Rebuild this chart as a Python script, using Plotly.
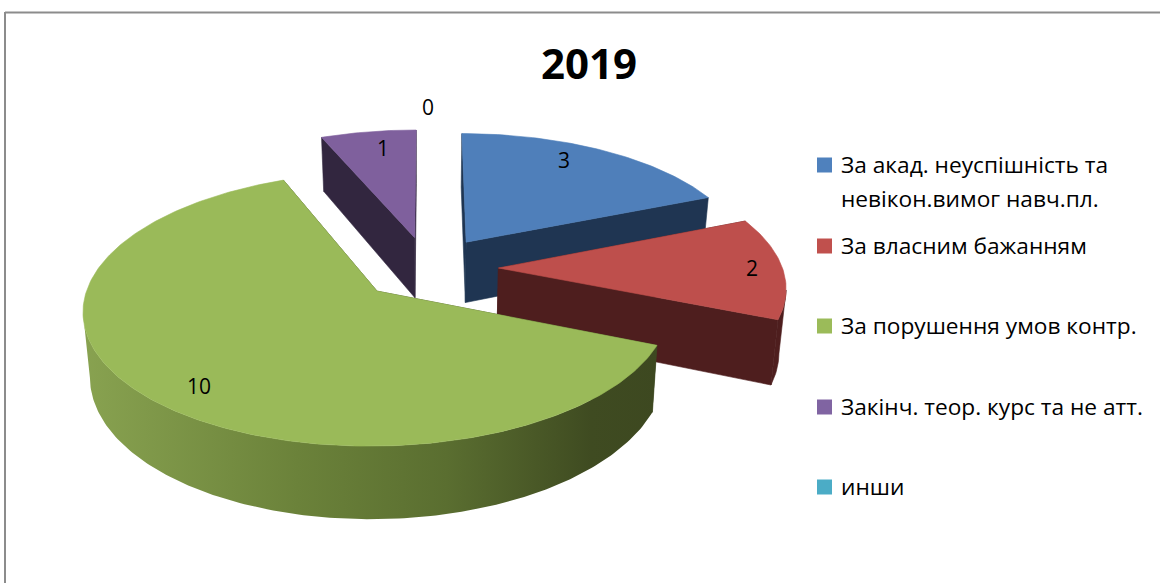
import numpy as np
import plotly.graph_objects as go

# data
categories = ["За акад. неуспішність та<br>невікон.вимог навч.пл.", "За власним бажанням",
              "За порушення умов контр.", "Закінч. теор. курс та не атт.", "инши"]
values = [3, 2, 10, 1, 0]
title = "2019"

top_colors = ["#4F7FBA", "#BE4F4C", "#9ABA59", "#7F609D", "#4BACC6"]
side_colors = ["#1F3552", "#4E1E1E", None, "#32263F", "#2A6577"]
legend_colors = ["#4F81BD", "#C0504D", "#9BBB59", "#8064A2", "#4BACC6"]
green_rim_stops = [[0, "#88A250"], [0.37, "#6B823A"], [0.63, "#5A6E30"], [0.88, "#3F4B21"], [1, "#3D4820"]]

label_x = [564, 752, 199, 383, 428]
label_y = [163, 271, 389, 151, 110]
swatch_y = [165, 246, 326, 407, 487]
text_y = [[164, 198], [245], [325], [406], [486]]

# projection of the tilted pie
ox, oy = 428, 268
rx, ry = 284, 128.7
persp = 0.1284
explode = 0.248
depth = 62
bottom_shrink = 0.98


def project(u, v, low=False):
    s = 1 / (1 + persp * v)
    x = rx * u * s
    y = -ry * v * s
    if low:
        return ox + x * bottom_shrink, oy + y + depth * s
    return ox + x, oy + y


def poly(pts, color, gradient=None):
    xs, ys = zip(*pts)
    tr = go.Scatter(x=list(xs) + [xs[0]], y=list(ys) + [ys[0]], mode="lines", fill="toself",
                    fillcolor=color, line=dict(color=color, width=0.6),
                    hoverinfo="skip", showlegend=False)
    if gradient:
        tr.fillgradient = gradient
        tr.line.width = 0
    return tr


fig = go.Figure()
total = sum(values)
edges = np.cumsum([0] + values) / total * 2 * np.pi
draw_order = [0, 3, 1, 2]

for i in draw_order:
    a0, a1 = edges[i], edges[i + 1]
    mid = (a0 + a1) / 2
    eu, ev = explode * np.sin(mid), explode * np.cos(mid)
    angles = np.linspace(a0, a1, int(values[i] * 24) + 2)
    rim = [(eu + np.sin(a), ev + np.cos(a)) for a in angles]
    apex = (eu, ev)

    side = side_colors[i]
    face_col = side if side else "#3D4820"
    for a_end in (rim[0], rim[-1]):
        fig.add_trace(poly([project(*apex), project(*a_end), project(*a_end, low=True),
                            project(*apex, low=True)], face_col))

    # only the front of the rim is seen: the run where x falls as the angle grows
    rim_x = np.array([project(*p)[0] for p in rim])
    front = [p for p, d in zip(rim, np.gradient(rim_x)) if d <= 0]
    if len(front) > 1:
        rim_pts = [project(*p) for p in front] + [project(*p, low=True) for p in front[::-1]]
        if side:
            fig.add_trace(poly(rim_pts, side))
        else:
            fig.add_trace(poly(rim_pts, "#6B823A",
                               gradient=dict(type="horizontal", colorscale=green_rim_stops,
                                             start=85, stop=660)))

    fig.add_trace(poly([project(*apex)] + [project(*p) for p in rim], top_colors[i]))

# data labels
fig.add_trace(go.Scatter(x=label_x, y=label_y, mode="text", text=[str(v) for v in values],
                         textfont=dict(family="Open Sans", size=21, color="#000000"),
                         textposition="middle center", hoverinfo="skip", showlegend=False))

# legend drawn by hand, one entry wraps onto two lines
fig.add_trace(go.Scatter(x=[824.5] * 5, y=swatch_y, mode="markers",
                         marker=dict(symbol="square", size=15, color=legend_colors),
                         hoverinfo="skip", showlegend=False))
for name, ys in zip(categories, text_y):
    for line, y in zip(name.split("<br>"), ys):
        fig.add_annotation(x=839, y=y, text=line, xanchor="left", yanchor="middle", align="left",
                           showarrow=False, font=dict(family="Open Sans", size=22.7, color="#000000"))

fig.add_annotation(x=589, y=62, text="<b>%s</b>" % title, showarrow=False,
                   font=dict(family="Open Sans", size=42, color="#000000"))

# chart frame, no right or bottom edge visible
fig.add_shape(type="line", x0=5, x1=1160, y0=12.5, y1=12.5, line=dict(color="#8C8C8C", width=2))
fig.add_shape(type="line", x0=5, x1=5, y0=12, y1=583, line=dict(color="#8C8C8C", width=2))

fig.update_layout(width=1160, height=583, margin=dict(l=0, r=0, t=0, b=0),
                  paper_bgcolor="#FFFFFF", plot_bgcolor="#FFFFFF", showlegend=False,
                  xaxis=dict(range=[0, 1160], visible=False, fixedrange=True),
                  yaxis=dict(range=[583, 0], visible=False, fixedrange=True))
fig.write_html("out.html", config=dict(displayModeBar=False),
               post_script="document.body.style.margin='0';document.body.style.overflow='hidden';")
